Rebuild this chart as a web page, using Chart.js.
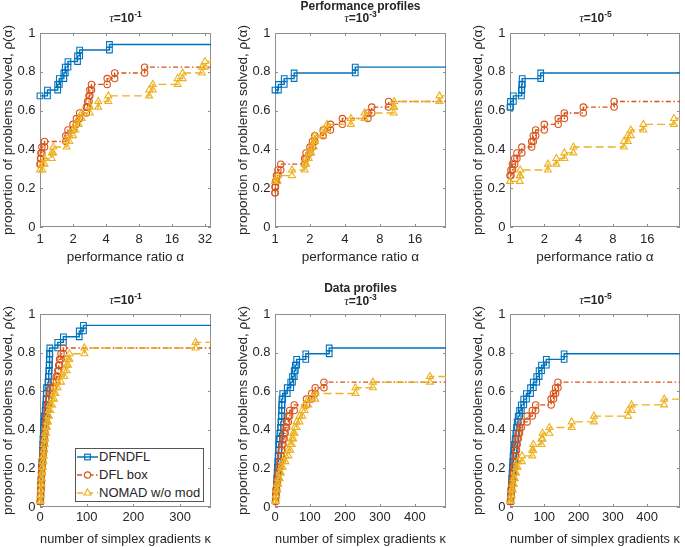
<!DOCTYPE html>
<html><head><meta charset="utf-8">
<script src="https://cdn.jsdelivr.net/npm/chart.js@4.4.1/dist/chart.umd.min.js"></script>
<style>
body{margin:0;background:#fff;}
#wrap{position:relative;width:685px;height:547px;overflow:hidden;background:#fff;font-family:'Liberation Sans',Arial,sans-serif;color:#262626}
canvas{position:absolute}
.ttl{position:absolute;width:200px;text-align:center;font-weight:bold;font-size:12px;line-height:14px;height:14px;white-space:nowrap}
.ttl i{font-family:'Liberation Serif','DejaVu Serif',serif;font-weight:normal;font-size:13px}
.ttl sup{font-size:8.5px;vertical-align:5px;line-height:0}
.leg{position:absolute;left:75px;top:448px;width:127px;height:52px;border:1px solid #555;background:#fff}
.row{position:absolute;left:0;height:16px;width:127px;font-size:13px;line-height:16px;white-space:nowrap}
.row svg{position:absolute;left:1px;top:2px}
.row span{position:absolute;left:23px;top:0}
</style></head><body>
<div id="wrap">
  <div class="ttl" style="left:25.5px;top:11px"><i>τ</i>=10<sup>-1</sup></div>
  <div class="ttl" style="left:260.5px;top:-1px">Performance profiles</div>
  <div class="ttl" style="left:260.5px;top:11px"><i>τ</i>=10<sup>-3</sup></div>
  <div class="ttl" style="left:495.5px;top:11px"><i>τ</i>=10<sup>-5</sup></div>
  <div class="ttl" style="left:25.5px;top:293px"><i>τ</i>=10<sup>-1</sup></div>
  <div class="ttl" style="left:260.5px;top:281px">Data profiles</div>
  <div class="ttl" style="left:260.5px;top:294px"><i>τ</i>=10<sup>-3</sup></div>
  <div class="ttl" style="left:495.5px;top:293px"><i>τ</i>=10<sup>-5</sup></div>
  <div class="leg">
    <div class="row" style="top:0px"><svg width="22" height="12"><line x1="0" y1="6" x2="21" y2="6" stroke="#0072BD" stroke-width="1.5"/><rect x="7.7" y="3.2" width="5.6" height="5.6" fill="none" stroke="#0072BD" stroke-width="1.2"/></svg><span>DFNDFL</span></div>
    <div class="row" style="top:18px"><svg width="22" height="12"><line x1="0" y1="6" x2="21" y2="6" stroke="#D95319" stroke-width="1.5" stroke-dasharray="5,2.5,1.5,2.5"/><circle cx="10.5" cy="6" r="3.2" fill="#fff" stroke="#D95319" stroke-width="1.2"/></svg><span>DFL box</span></div>
    <div class="row" style="top:36px"><svg width="22" height="12"><line x1="0" y1="6" x2="21" y2="6" stroke="#EDB120" stroke-width="1.5" stroke-dasharray="6,4"/><polygon points="10.5,2 14,8 7,8" fill="#fff" stroke="#EDB120" stroke-width="1.2"/></svg><span>NOMAD w/o mod</span></div>
  </div>
</div>
<script>
// ---------------- tick labels ----------------
const yTicks = [0, 0.2, 0.4, 0.6, 0.8, 1];
const perfTicksA = [1, 2, 4, 8, 16, 32];
const perfTicksB = [1, 2, 4, 8, 16];
const dataTicksA = [0, 100, 200, 300];
const dataTicksB = [0, 100, 200, 300, 400];
const seriesNames = ['DFNDFL', 'DFL box', 'NOMAD w/o mod'];

// ---------------- Performance profiles, tau = 1e-1 ----------------
const pp1_dfn_x = [1, 1.17, 1.45, 1.5, 1.65, 1.7, 1.8, 2.2, 2.3, 4.3];
const pp1_dfn_y = [0.676, 0.706, 0.735, 0.765, 0.794, 0.824, 0.853, 0.882, 0.912, 0.941];
const pp1_dfl_x = [1, 1.01, 1.02, 1.04, 1.1, 1.72, 1.8, 2.0, 2.15, 2.3, 2.65, 2.72, 2.8, 2.85, 2.95, 4.1, 4.8, 9.0];
const pp1_dfl_y = [0.324, 0.353, 0.382, 0.412, 0.441, 0.471, 0.5, 0.529, 0.559, 0.588, 0.618, 0.647, 0.676, 0.706, 0.735, 0.765, 0.794, 0.824];
const pp1_nom_x = [1, 1.05, 1.1, 1.28, 1.32, 1.75, 1.85, 2.0, 2.1, 2.25, 2.4, 2.85, 3.4, 4.2, 9.9, 10.7, 18, 20, 30, 32];
const pp1_nom_y = [0.294, 0.324, 0.353, 0.382, 0.412, 0.441, 0.471, 0.5, 0.529, 0.559, 0.588, 0.618, 0.647, 0.676, 0.706, 0.735, 0.765, 0.794, 0.824, 0.853];

// ---------------- Performance profiles, tau = 1e-3 ----------------
const pp3_dfn_x = [1, 1.07, 1.2, 1.46, 4.9];
const pp3_dfn_y = [0.706, 0.735, 0.765, 0.794, 0.824];
const pp3_dfl_x = [1, 1, 1.01, 1.03, 1.06, 1.12, 1.8, 1.85, 2.0, 2.1, 2.2, 2.6, 3.0, 3.8, 6.3, 6.8, 9.5];
const pp3_dfl_y = [0.176, 0.206, 0.235, 0.265, 0.294, 0.324, 0.353, 0.382, 0.412, 0.441, 0.471, 0.5, 0.529, 0.559, 0.588, 0.618, 0.647];
const pp3_nom_x = [1, 1.05, 1.4, 1.8, 1.85, 1.95, 2.05, 2.15, 2.2, 2.6, 2.8, 4.5, 5.9, 10.5, 10.6, 26];
const pp3_nom_y = [0.235, 0.265, 0.294, 0.324, 0.353, 0.382, 0.412, 0.441, 0.471, 0.5, 0.529, 0.559, 0.588, 0.618, 0.647, 0.676];

// ---------------- Performance profiles, tau = 1e-5 ----------------
const pp5_dfn_x = [1, 1.01, 1.07, 1.26, 1.27, 1.28, 1.86];
const pp5_dfn_y = [0.618, 0.647, 0.676, 0.706, 0.735, 0.765, 0.794];
const pp5_dfl_x = [1, 1.02, 1.05, 1.1, 1.15, 1.27, 1.55, 1.6, 1.68, 2.0, 2.65, 3.0, 4.4, 8.2];
const pp5_dfl_y = [0.265, 0.294, 0.324, 0.353, 0.382, 0.412, 0.441, 0.471, 0.5, 0.529, 0.559, 0.588, 0.618, 0.647];
const pp5_nom_x = [1, 1.22, 1.23, 2.15, 2.55, 3.0, 3.6, 10.0, 10.8, 11.5, 14.8, 27.5];
const pp5_nom_y = [0.235, 0.265, 0.294, 0.324, 0.353, 0.382, 0.412, 0.441, 0.471, 0.5, 0.529, 0.559];

// ---------------- Data profiles, tau = 1e-1 ----------------
const dp1_dfn_x = [0.5, 1, 1.5, 2, 2.5, 3, 3.5, 4, 5, 5.5, 6, 6.5, 7, 7.5, 8, 9, 11, 12, 13, 13.5, 14, 17, 18, 19, 19.5, 20, 20.5, 21, 38, 50, 84, 93];
const dp1_dfn_y = [0.029, 0.059, 0.088, 0.118, 0.147, 0.176, 0.206, 0.235, 0.265, 0.294, 0.324, 0.353, 0.382, 0.412, 0.441, 0.471, 0.5, 0.529, 0.559, 0.588, 0.618, 0.647, 0.676, 0.706, 0.735, 0.765, 0.794, 0.824, 0.853, 0.882, 0.912, 0.941];
const dp1_dfl_x = [0.5, 1, 1.5, 2, 2.5, 3, 4, 5, 6, 7, 8, 9, 10, 11, 12, 14, 15, 16, 18, 20, 22, 28, 35, 38, 40, 42, 45, 50];
const dp1_dfl_y = [0.029, 0.059, 0.088, 0.118, 0.147, 0.176, 0.206, 0.235, 0.265, 0.294, 0.324, 0.353, 0.382, 0.412, 0.441, 0.471, 0.5, 0.529, 0.559, 0.588, 0.618, 0.647, 0.676, 0.706, 0.735, 0.765, 0.794, 0.824];
const dp1_nom_x = [0.5, 1, 1.5, 2, 3, 4, 5, 6, 7, 8, 9, 10, 11, 13, 15, 17, 19, 22, 26, 30, 33, 38, 45, 52, 57, 60, 63, 95, 333];
const dp1_nom_y = [0.029, 0.059, 0.088, 0.118, 0.147, 0.176, 0.206, 0.235, 0.265, 0.294, 0.324, 0.353, 0.382, 0.412, 0.441, 0.471, 0.5, 0.529, 0.559, 0.588, 0.618, 0.647, 0.676, 0.706, 0.735, 0.765, 0.794, 0.824, 0.853];

// ---------------- Data profiles, tau = 1e-3 ----------------
const dp3_dfn_x = [2, 3, 4, 5, 6, 7, 8, 9, 10, 11, 12, 14, 16, 17, 18, 19, 19.5, 20, 22, 35, 45, 50, 55, 58, 62, 88, 155];
const dp3_dfn_y = [0.059, 0.088, 0.118, 0.147, 0.176, 0.206, 0.235, 0.265, 0.294, 0.324, 0.353, 0.382, 0.412, 0.441, 0.471, 0.5, 0.529, 0.559, 0.588, 0.618, 0.647, 0.676, 0.706, 0.735, 0.765, 0.794, 0.824];
const dp3_dfl_x = [1, 2, 3, 5, 7, 9, 11, 14, 16, 18, 20, 23, 26, 29, 33, 38, 42, 55, 90, 105, 115, 140];
const dp3_dfl_y = [0.029, 0.059, 0.088, 0.118, 0.147, 0.176, 0.206, 0.235, 0.265, 0.294, 0.324, 0.353, 0.382, 0.412, 0.441, 0.471, 0.5, 0.529, 0.559, 0.588, 0.618, 0.647];
const dp3_nom_x = [1, 2, 4, 6, 9, 13, 17, 22, 30, 38, 44, 48, 52, 56, 62, 70, 78, 85, 95, 115, 230, 280, 443];
const dp3_nom_y = [0.029, 0.059, 0.088, 0.118, 0.147, 0.176, 0.206, 0.235, 0.265, 0.294, 0.324, 0.353, 0.382, 0.412, 0.441, 0.471, 0.5, 0.529, 0.559, 0.588, 0.618, 0.647, 0.676];

// ---------------- Data profiles, tau = 1e-5 ----------------
const dp5_dfn_x = [1, 2, 3, 4, 5, 6, 7, 8, 9, 11, 13, 15, 17, 19, 21, 24, 28, 33, 40, 48, 60, 68, 78, 85, 92, 106, 158];
const dp5_dfn_y = [0.029, 0.059, 0.088, 0.118, 0.147, 0.176, 0.206, 0.235, 0.265, 0.294, 0.324, 0.353, 0.382, 0.412, 0.441, 0.471, 0.5, 0.529, 0.559, 0.588, 0.618, 0.647, 0.676, 0.706, 0.735, 0.765, 0.794];
const dp5_dfl_x = [1, 2, 3, 5, 7, 9, 11, 13, 15, 17, 19, 21, 24, 28, 33, 50, 65, 75, 120, 127, 133, 140];
const dp5_dfl_y = [0.029, 0.059, 0.088, 0.118, 0.147, 0.176, 0.206, 0.235, 0.265, 0.294, 0.324, 0.353, 0.382, 0.412, 0.441, 0.471, 0.5, 0.529, 0.559, 0.588, 0.618, 0.647];
const dp5_nom_x = [1, 3, 5, 8, 11, 14, 18, 22, 35, 65, 68, 92, 95, 115, 180, 245, 345, 355, 450];
const dp5_nom_y = [0.029, 0.059, 0.088, 0.118, 0.147, 0.176, 0.206, 0.235, 0.265, 0.294, 0.324, 0.353, 0.382, 0.412, 0.441, 0.471, 0.5, 0.529, 0.559];

// ---------------- axis limits ----------------
const xLimits = { pp1: [1, 36.3], pp3: [1, 29.6], pp5: [1, 31], dp1: [0, 366], dp3: [0, 489], dp5: [0, 496] };

// ---------------- styling / layout ----------------
const TXT = '#262626';
Chart.defaults.font.family = "'Liberation Sans', Arial, sans-serif";
const styles = [
  { color: '#0072BD', dash: [], point: 'rect', r: 4, order: 3 },
  { color: '#D95319', dash: [5, 2.5, 1.5, 2.5], point: 'circle', r: 3.2, order: 2 },
  { color: '#EDB120', dash: [8, 4], point: 'triangle', r: 4, order: 1 }
];

function stairs(xs, ys, xEnd) {
  const pts = [{ x: xs[0], y: ys[0], m: 1 }];
  for (let i = 1; i < xs.length; i++) {
    pts.push({ x: xs[i], y: ys[i - 1], m: 1 });
    pts.push({ x: xs[i], y: ys[i], m: 1 });
  }
  pts.push({ x: xEnd, y: ys[ys.length - 1], m: 0 });
  return pts;
}

const framePlugin = {
  id: 'frame',
  beforeDatasetsDraw(chart) {
    const { ctx, chartArea: a, scales } = chart;
    ctx.save();
    ctx.strokeStyle = '#8f8f8f';
    ctx.lineWidth = 1;
    ctx.strokeRect(Math.round(a.left) + 0.5, Math.round(a.top) + 0.5, Math.round(a.right - a.left) - 1, Math.round(a.bottom - a.top) - 1);
    ctx.beginPath();
    const tl = 3;
    scales.x.ticks.forEach(t => {
      const px = Math.round(scales.x.getPixelForValue(t.value)) + 0.5;
      ctx.moveTo(px, a.bottom); ctx.lineTo(px, a.bottom - tl);
      ctx.moveTo(px, a.top); ctx.lineTo(px, a.top + tl);
    });
    scales.y.ticks.forEach(t => {
      const py = Math.round(scales.y.getPixelForValue(t.value)) + 0.5;
      ctx.moveTo(a.left, py); ctx.lineTo(a.left + tl, py);
      ctx.moveTo(a.right, py); ctx.lineTo(a.right - tl, py);
    });
    ctx.stroke();
    ctx.restore();
  }
};

const panels = [
  { key: 'pp1', log: true, ticks: perfTicksA, area: [40, 33, 211, 227], canvas: [0, 0, 230, 270],
    xs: [pp1_dfn_x, pp1_dfl_x, pp1_nom_x], ys: [pp1_dfn_y, pp1_dfl_y, pp1_nom_y],
    xlabel: 'performance ratio α', ylabel: 'proportion of problems solved, ρ(α)', tickPad: 5, titlePad: 5 },
  { key: 'pp3', log: true, ticks: perfTicksB, area: [275, 33, 446, 227], canvas: [235, 0, 230, 270],
    xs: [pp3_dfn_x, pp3_dfl_x, pp3_nom_x], ys: [pp3_dfn_y, pp3_dfl_y, pp3_nom_y],
    xlabel: 'performance ratio α', ylabel: 'proportion of problems solved, ρ(α)', tickPad: 5, titlePad: 5 },
  { key: 'pp5', log: true, ticks: perfTicksB, area: [510, 33, 681, 227], canvas: [470, 0, 215, 270],
    xs: [pp5_dfn_x, pp5_dfl_x, pp5_nom_x], ys: [pp5_dfn_y, pp5_dfl_y, pp5_nom_y],
    xlabel: 'performance ratio α', ylabel: 'proportion of problems solved, ρ(α)', tickPad: 5, titlePad: 5 },
  { key: 'dp1', log: false, ticks: dataTicksA, area: [40, 314, 211, 507], canvas: [0, 275, 230, 272],
    xs: [dp1_dfn_x, dp1_dfl_x, dp1_nom_x], ys: [dp1_dfn_y, dp1_dfl_y, dp1_nom_y],
    xlabel: 'number of simplex gradients κ', ylabel: 'proportion of problems solved, ρ(κ)', tickPad: 2.5, titlePad: 0 },
  { key: 'dp3', log: false, ticks: dataTicksB, area: [275, 314, 446, 507], canvas: [235, 275, 230, 272],
    xs: [dp3_dfn_x, dp3_dfl_x, dp3_nom_x], ys: [dp3_dfn_y, dp3_dfl_y, dp3_nom_y],
    xlabel: 'number of simplex gradients κ', ylabel: 'proportion of problems solved, ρ(κ)', tickPad: 2.5, titlePad: 0 },
  { key: 'dp5', log: false, ticks: dataTicksB, area: [510, 314, 681, 507], canvas: [470, 275, 215, 272],
    xs: [dp5_dfn_x, dp5_dfl_x, dp5_nom_x], ys: [dp5_dfn_y, dp5_dfl_y, dp5_nom_y],
    xlabel: 'number of simplex gradients κ', ylabel: 'proportion of problems solved, ρ(κ)', tickPad: 2.5, titlePad: 0 }
];

const wrap = document.getElementById('wrap');
panels.forEach(p => {
  const [cx, cy, cw, ch] = p.canvas;
  const [L, T, R, B] = p.area;
  const cv = document.createElement('canvas');
  cv.width = cw; cv.height = ch;
  cv.style.left = cx + 'px'; cv.style.top = cy + 'px';
  cv.style.width = cw + 'px'; cv.style.height = ch + 'px';
  wrap.insertBefore(cv, wrap.firstChild);
  const yW = L - cx, padTop = T - cy, padRight = cx + cw - R, xH = cy + ch - B;
  const [xmin, xmax] = xLimits[p.key];
  const datasets = styles.map((s, i) => ({
    label: seriesNames[i],
    data: stairs(p.xs[i], p.ys[i], xmax),
    showLine: true,
    borderColor: s.color,
    backgroundColor: 'rgba(0,0,0,0)',
    borderWidth: 1.4,
    borderDash: s.dash,
    pointStyle: s.point,
    pointRadius: c => (c.raw && c.raw.m ? s.r : 0),
    pointBorderWidth: 1.1,
    pointBorderColor: s.color,
    pointBackgroundColor: 'rgba(0,0,0,0)',
    order: s.order,
    clip: false,
    tension: 0
  }));
  const zeroPad = s => { s.paddingLeft = 0; s.paddingRight = 0; s.paddingTop = 0; s.paddingBottom = 0; };
  new Chart(cv, {
    type: 'scatter',
    data: { datasets },
    options: {
      responsive: false, animation: false, devicePixelRatio: 1, events: [],
      layout: { padding: { left: 0, top: padTop, right: padRight, bottom: 0 } },
      plugins: { legend: { display: false }, tooltip: { enabled: false } },
      scales: {
        x: {
          type: p.log ? 'logarithmic' : 'linear', min: xmin, max: xmax,
          afterBuildTicks: s => { s.ticks = p.ticks.map(v => ({ value: v })); },
          afterFit: s => { s.height = xH; zeroPad(s); },
          grid: { display: false, drawTicks: false }, border: { display: false },
          ticks: { autoSkip: false, maxRotation: 0, minRotation: 0, padding: p.tickPad, color: TXT, font: { size: 13 }, callback: v => String(v) },
          title: { display: true, text: p.xlabel, color: TXT, font: { size: 13.5 }, padding: { top: 0, bottom: p.titlePad } }
        },
        y: {
          type: 'linear', min: 0, max: 1,
          afterBuildTicks: s => { s.ticks = yTicks.map(v => ({ value: v })); },
          afterFit: s => { s.width = yW; zeroPad(s); },
          grid: { display: false, drawTicks: false }, border: { display: false },
          ticks: { autoSkip: false, padding: 4.5, color: TXT, font: { size: 13 }, callback: v => String(v) },
          title: { display: true, text: p.ylabel, color: TXT, font: { size: 13.5 }, padding: { top: 0, bottom: 0 } }
        }
      }
    },
    plugins: [framePlugin]
  });
});
</script>
</body></html>
